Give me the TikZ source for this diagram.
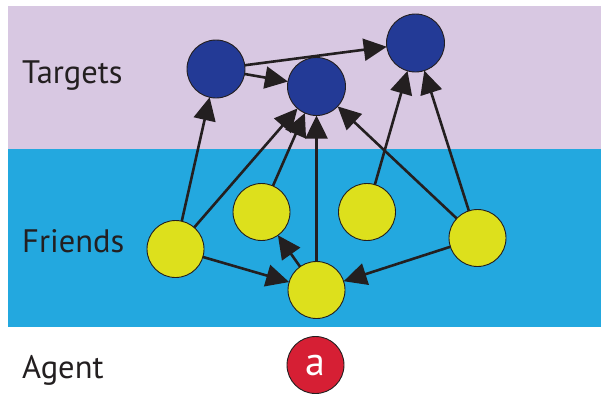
\documentclass[tikz,border=0pt]{standalone}
\usepackage{fontspec}
\setmainfont{PT Sans}
\usetikzlibrary{arrows.meta}
\definecolor{lav}{HTML}{D8C8E2}
\definecolor{sky}{HTML}{23A8DF}
\definecolor{navy}{HTML}{233A96}
\definecolor{yel}{HTML}{DDE01C}
\definecolor{agentred}{HTML}{D61F34}
\definecolor{ink}{HTML}{231F20}
\begin{document}
\begin{tikzpicture}[x=1pt,y=-1pt,
  target/.style={circle,draw=ink,line width=0.9pt,fill=navy,minimum size=58pt,inner sep=0pt,outer sep=0pt},
  friend/.style={circle,draw=ink,line width=0.9pt,fill=yel,minimum size=57pt,inner sep=0pt,outer sep=0pt},
  agentnode/.style={circle,draw=ink,line width=0.9pt,fill=agentred,minimum size=57pt,inner sep=0pt,outer sep=0pt,text=white,font=\fontsize{40}{40}\selectfont},
  edge/.style={draw=ink,line width=2.6pt,-{Triangle[length=23pt,width=22pt]}},
  lbl/.style={anchor=base west,inner sep=0pt,text=ink,font=\fontsize{32.5}{32.5}\selectfont}]
\useasboundingbox (0,0) rectangle (601,394);
\fill[lav] (8,6) rectangle (601,149);
\fill[sky] (8,149) rectangle (601,327);
\node[lbl] (lt) at (22,83) {Targets};
\node[lbl] (lf) at (22,252) {Friends};
\node[lbl] (la) at (22,378) {Agent};
\node[target] (t1) at (216,69) {};
\node[target] (t2) at (316.5,86.5) {};
\node[target] (t3) at (415.5,43) {};
\node[friend] (f1) at (175.5,249) {};
\node[friend] (f2) at (261.5,212) {};
\node[friend] (f3) at (316.5,290) {};
\node[friend] (f4) at (367,212) {};
\node[friend] (f5) at (477.5,238) {};
\node[agentnode] (ag) at (315.5,365) {a};
\path[edge] (t1) -- (t2);
\path[edge] (t1) -- (t3);
\path[edge] (f1) -- (t1);
\path[edge] (f1) -- (t2);
\path[edge] (f2) -- (t2);
\path[edge] (f3) -- (t2);
\path[edge] (f5) -- (t2);
\path[edge] (f4) -- (t3);
\path[edge] (f5) -- (t3);
\path[edge] (f1) -- (f3);
\path[edge] (f3) -- (f2);
\path[edge] (f5) -- (f3);
\end{tikzpicture}
\end{document}
